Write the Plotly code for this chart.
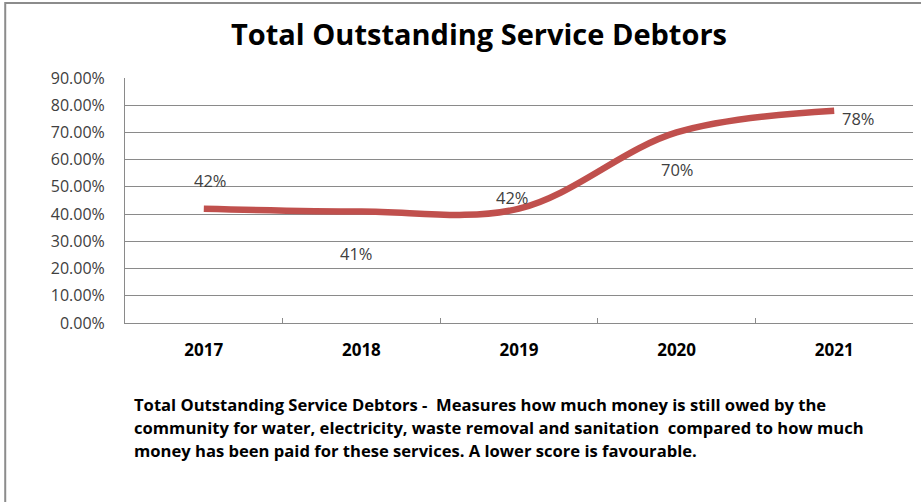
import plotly.graph_objects as go

# Data
years = ["2017", "2018", "2019", "2020", "2021"]
debtors_ratio = [0.42, 0.41, 0.42, 0.70, 0.78]
value_labels = ["42%", "41%", "42%", "70%", "78%"]
y_tick_values = [0.0, 0.1, 0.2, 0.3, 0.4, 0.5, 0.6, 0.7, 0.8, 0.9]

# Pixel offsets of each value label from its point (dx, dy)
label_offsets = [(7, 28), (-5, -42), (-7, 11), (1, -37), (24, -8)]

title_text = "Total Outstanding Service Debtors"
note_lines = [
    "Total Outstanding Service Debtors -  Measures how much money is still owed by the",
    "community for water, electricity, waste removal and sanitation  compared to how much",
    "money has been paid for these services. A lower score is favourable.",
]

FONT = "Open Sans"
LINE_RED = "#C0504D"
GRID = "#8A8A8A"
TEXT = "#404040"

fig = go.Figure()
fig.add_trace(go.Scatter(
    x=years, y=debtors_ratio, mode="lines",
    line=dict(color=LINE_RED, width=6.5, shape="spline", smoothing=1.0),
    hoverinfo="skip", showlegend=False,
))

# Value labels, placed by category index on the category axis
for i, (v, lab, (dx, dy)) in enumerate(zip(debtors_ratio, value_labels, label_offsets)):
    fig.add_annotation(
        x=i, y=v, text=lab, showarrow=False, xshift=dx, yshift=dy,
        font=dict(family=FONT, size=16.5, color=TEXT),
    )

# Title
fig.add_annotation(
    x=0.449, y=1.0, xref="paper", yref="paper", yanchor="middle",
    xanchor="center", yshift=45, text="<b>" + title_text + "</b>",
    showarrow=False, font=dict(family=FONT, size=29, color="black"),
)

# Explanatory note below the chart, one annotation per line
for k, line in enumerate(note_lines):
    fig.add_annotation(
        x=0.0, y=0.0, xref="paper", yref="paper", xanchor="left", yanchor="middle",
        xshift=7, yshift=-81 - 23 * k, align="left",
        text="<b>" + line + "</b>",
        showarrow=False, font=dict(family=FONT, size=16.6, color="black"),
    )

# Outer chart border
fig.add_shape(
    type="rect", xref="paper", yref="paper",
    x0=-0.152, x1=1.2, y0=-0.9, y1=1.306,
    line=dict(color="#8C8C8C", width=2), fillcolor="rgba(0,0,0,0)",
    layer="below",
)

fig.update_layout(
    width=921, height=502,
    margin=dict(l=125, r=8, t=78, b=179),
    paper_bgcolor="white", plot_bgcolor="white",
    font=dict(family=FONT, color=TEXT),
)
fig.update_xaxes(
    type="category", range=[-0.5, 4.5], showgrid=False,
    showline=True, linecolor=GRID, linewidth=1,
    ticks="inside", tickson="boundaries", ticklen=5, tickcolor=GRID,
    tickfont=dict(family=FONT, size=17, color="black"),
    ticklabelstandoff=12, tickangle=0,
    tickprefix="<b>", ticksuffix="</b>",
)
fig.update_yaxes(
    range=[0, 0.9], tickvals=y_tick_values, tickformat=".2%",
    showgrid=True, gridcolor=GRID, gridwidth=1,
    showline=True, linecolor=GRID, linewidth=1,
    zeroline=False, ticks="", ticklabelstandoff=16,
    tickfont=dict(family=FONT, size=16, color=TEXT),
)

fig.write_html("out.html")
